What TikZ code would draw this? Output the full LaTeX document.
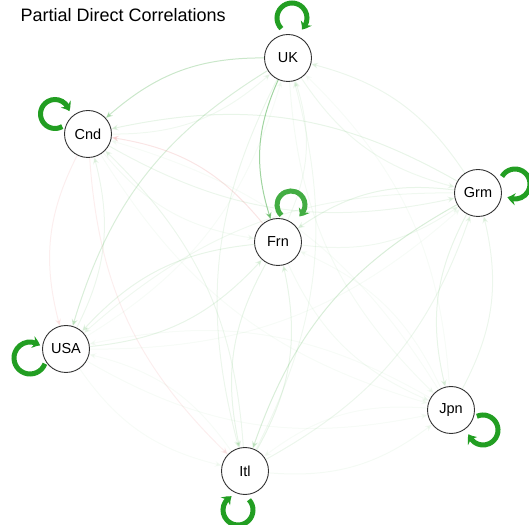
\documentclass[tikz,border=0pt]{standalone}
\usepackage{fontspec}
\setmainfont{Liberation Sans}
\usetikzlibrary{arrows.meta,bending,calc,backgrounds}
\definecolor{egreen}{RGB}{44,160,44}
\definecolor{epink}{RGB}{214,39,40}
\definecolor{lgreen}{RGB}{34,158,34}
\tikzset{
  country/.style={circle, draw=black!80, line width=0.9pt, fill=white, minimum size=47pt, inner sep=0pt, font=\fontsize{14.5}{16}\selectfont},
  pc/.style={draw=egreen, line width=1pt, opacity=#1, -{Stealth[length=7pt,width=6pt]}, bend right=21},
  nc/.style={draw=epink, line width=1pt, opacity=#1, -{Stealth[length=7pt,width=6pt]}, bend right=21},
  selfloop/.style={draw=lgreen, line width=5pt, -{Stealth[length=8pt,width=12pt,bend]}},
}
\begin{document}
\begin{tikzpicture}[x=1pt,y=1pt]
\useasboundingbox (0,0) rectangle (529,524);
\node[anchor=base west, font=\fontsize{18}{20}\selectfont] (title) at (17,502) {Partial Direct Correlations};
\node[country] (UK) at (288,466) {UK};
\node[country] (Cnd) at (88,390) {Cnd};
\node[country] (Grm) at (478,331) {Grm};
\node[country] (Frn) at (278,282) {Frn};
\node[country] (USA) at (66,175) {USA};
\node[country] (Jpn) at (451,114) {Jpn};
\node[country] (Itl) at (245,53) {Itl};
\begin{scope}[on background layer]
\draw[pc=0.25] (UK) to (Cnd);
\draw[pc=0.45] (UK) to (Frn);
\draw[pc=0.18] (UK) to (USA);
\draw[pc=0.08] (UK) to (Grm);
\draw[pc=0.09] (UK) to (Itl);
\draw[pc=0.05] (UK) to (Jpn);
\draw[pc=0.07] (Cnd) to (UK);
\draw[pc=0.09] (Cnd) to (Grm);
\draw[pc=0.05] (Cnd) to (Frn);
\draw[nc=0.08] (Cnd) to (USA);
\draw[nc=0.08] (Cnd) to (Itl);
\draw[pc=0.04] (Cnd) to (Jpn);
\draw[pc=0.11] (Grm) to (Cnd);
\draw[pc=0.09] (Grm) to (UK);
\draw[pc=0.11] (Grm) to (Frn);
\draw[pc=0.07] (Grm) to (USA);
\draw[pc=0.18] (Grm) to (Itl);
\draw[pc=0.11] (Grm) to (Jpn);
\draw[nc=0.12] (Frn) to (Cnd);
\draw[pc=0.07] (Frn) to (UK);
\draw[pc=0.07] (Frn) to (Grm);
\draw[pc=0.11] (Frn) to (USA);
\draw[pc=0.11] (Frn) to (Itl);
\draw[pc=0.05] (Frn) to (Jpn);
\draw[pc=0.09] (USA) to (Cnd);
\draw[pc=0.11] (USA) to (Frn);
\draw[pc=0.04] (USA) to (UK);
\draw[pc=0.04] (USA) to (Grm);
\draw[pc=0.04] (USA) to (Itl);
\draw[pc=0.04] (USA) to (Jpn);
\draw[pc=0.11] (Itl) to (Frn);
\draw[pc=0.09] (Itl) to (Cnd);
\draw[pc=0.07] (Itl) to (UK);
\draw[pc=0.09] (Itl) to (Grm);
\draw[pc=0.04] (Itl) to (USA);
\draw[pc=0.05] (Itl) to (Jpn);
\draw[pc=0.09] (Jpn) to (Grm);
\draw[pc=0.04] (Jpn) to (Frn);
\draw[pc=0.04] (Jpn) to (Itl);
\draw[pc=0.04] (Jpn) to (UK);
\draw[pc=0.04] (Jpn) to (Cnd);
\draw[pc=0.04] (Jpn) to (USA);
\end{scope}
\draw[selfloop] ($(UK.center)+(4,40)+(225:15)$) arc[start angle=225, end angle=-50, radius=15pt];
\draw[selfloop] ($(Cnd.center)+(-33,20)+(300:14.5)$) arc[start angle=300, end angle=11, radius=14.5pt];
\draw[selfloop] ($(Grm.center)+(37,9)+(150:15)$) arc[start angle=150, end angle=-120, radius=15pt];
\draw[selfloop, draw=lgreen!85] ($(Frn.center)+(13,37)+(227:14)$) arc[start angle=227, end angle=-54, radius=14pt];
\draw[selfloop] ($(USA.center)+(-36,-9)+(-21:16)$) arc[start angle=-21, end angle=-309, radius=16pt];
\draw[selfloop] ($(Itl.center)+(-7,-39)+(43:15)$) arc[start angle=43, end angle=-245, radius=15pt];
\draw[selfloop] ($(Jpn.center)+(32,-20)+(114:15)$) arc[start angle=114, end angle=-164, radius=15pt];
\end{tikzpicture}
\end{document}
